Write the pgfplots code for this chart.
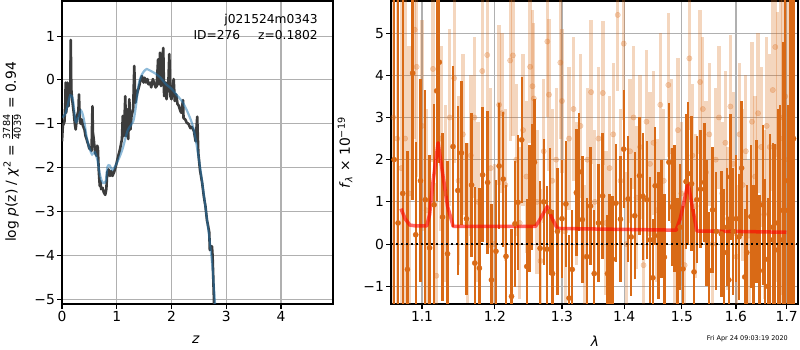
\documentclass[border=0pt]{standalone}
\usepackage{fontspec}
\setmainfont{DejaVu Sans}
\usepackage{amsmath}
\usepackage{pgfplots}
\pgfplotsset{compat=1.18}
\definecolor{dk}{RGB}{60,60,60}
\definecolor{bl}{RGB}{31,119,180}
\definecolor{org}{RGB}{217,106,22}
\definecolor{gridc}{RGB}{176,176,176}
\pgfplotsset{
  myax/.style={
    scale only axis,
    anchor=south west,
    axis line style={line width=1.1bp},
    tick pos=left,
    tick align=outside,
    major tick length=4.9bp,
    tick style={black, line width=1.1bp},
    grid=major,
    major grid style={gridc, line width=1.1bp},
    tick label style={font=\fontsize{13.9}{16}\selectfont},
    xticklabel style={inner sep=2bp},
    yticklabel style={inner sep=2bp},
  }
}
\begin{document}
\begin{tikzpicture}
\useasboundingbox (0,0) rectangle (800bp,350bp);
% ---------------- left panel ----------------
\begin{axis}[myax,
  at={(62bp,46bp)}, width=271bp, height=303bp,
  xmin=0, xmax=4.95, ymin=-5.11, ymax=1.8,
  xtick={0,1,2,3,4}, xticklabels={0,1,2,3,4},
  ytick={-5,-4,-3,-2,-1,0,1},
  yticklabels={−5,−4,−3,−2,−1,0,1},
]
\addplot[dk, line width=2.6bp, line join=round] coordinates {
(0.000,-1.40) (0.015,-1.05) (0.030,-1.00) (0.045,-0.95) (0.060,-0.55) (0.067,-0.06)
(0.075,-0.75) (0.085,-0.65) (0.100,-0.06) (0.110,-0.55) (0.118,-0.60) (0.130,-0.30)
(0.140,-0.14) (0.150,-0.30) (0.160,0.91) (0.170,-0.20) (0.180,-0.37) (0.200,-0.60)
(0.215,-0.75) (0.226,-0.90) (0.240,-1.05) (0.250,-1.13) (0.265,-0.95) (0.275,-0.82)
(0.290,-0.75) (0.300,-0.70) (0.310,-0.33) (0.320,-0.70) (0.330,-0.97) (0.345,-1.00)
(0.360,-0.90) (0.375,-1.00) (0.385,-1.05) (0.400,-1.10) (0.410,-1.13) (0.420,-1.20)
(0.430,-1.28) (0.450,-1.35) (0.465,-1.42) (0.480,-1.47) (0.495,-1.55) (0.510,-1.58)
(0.525,-1.55) (0.540,-1.62) (0.556,-0.60) (0.565,-1.20) (0.580,-1.35) (0.595,-1.55)
(0.605,-1.66) (0.630,-1.73) (0.643,-1.50) (0.655,-1.55) (0.670,-2.04) (0.690,-2.42)
(0.700,-2.30) (0.715,-2.49) (0.740,-2.46) (0.765,-2.57) (0.790,-2.62) (0.810,-2.49)
(0.826,-2.11) (0.850,-2.04) (0.875,-2.19) (0.900,-2.08) (0.920,-2.19) (0.950,-2.11)
(0.985,-1.96) (1.020,-1.77) (1.060,-1.58) (1.095,-1.35) (1.110,-0.82) (1.130,-1.28)
(1.156,-0.37) (1.170,-1.28) (1.190,-0.67) (1.210,-1.35) (1.230,-0.44) (1.250,-1.13)
(1.270,-0.82) (1.300,-0.67) (1.320,0.32) (1.340,-0.52) (1.350,-0.45) (1.376,-0.29)
(1.410,-0.14) (1.440,0.02) (1.460,0.09) (1.490,-0.06) (1.510,0.05) (1.535,-0.06)
(1.560,0.02) (1.580,-0.10) (1.610,-0.06) (1.630,-0.17) (1.660,0.02) (1.680,-0.06)
(1.710,-0.17) (1.730,-0.14) (1.755,0.47) (1.770,-0.10) (1.790,0.62) (1.810,-0.14)
(1.830,0.40) (1.850,0.73) (1.865,-0.37) (1.890,-0.06) (1.910,-0.44) (1.945,0.02)
(1.960,0.59) (1.980,-0.37) (2.000,-0.44) (2.040,0.02) (2.060,-0.48) (2.085,-0.33)
(2.110,-0.55) (2.130,-0.58) (2.160,-0.70) (2.180,-0.75) (2.210,-0.46) (2.220,-0.87)
(2.250,-0.90) (2.280,-0.98) (2.310,-1.00) (2.345,-1.10) (2.370,-1.07) (2.410,-1.17)
(2.440,-1.40) (2.470,-0.84) (2.490,-1.67) (2.520,-2.05) (2.560,-2.35) (2.590,-2.65)
(2.620,-2.88) (2.650,-3.22) (2.660,-3.27) (2.690,-3.48) (2.700,-3.88) (2.720,-3.79)
(2.740,-3.80) (2.750,-4.00) (2.760,-4.39) (2.780,-5.20)
};
\addplot[bl, opacity=0.5, line width=2.2bp, smooth] coordinates {
(0.00,-0.85) (0.05,-0.80) (0.10,-0.60) (0.15,-0.35) (0.20,-0.45) (0.25,-0.95)
(0.30,-0.85) (0.35,-0.70) (0.40,-0.90) (0.45,-1.30) (0.50,-1.55) (0.55,-1.70)
(0.60,-1.65) (0.65,-1.85) (0.70,-2.20) (0.75,-2.35) (0.80,-2.30) (0.83,-1.98)
(0.87,-1.95) (0.92,-2.05) (1.00,-1.90) (1.10,-1.60) (1.20,-1.15) (1.30,-0.95)
(1.35,-0.60) (1.40,-0.10) (1.45,0.10) (1.50,0.20) (1.55,0.25) (1.60,0.22)
(1.70,0.15) (1.80,0.05) (1.90,-0.10) (2.00,-0.20) (2.10,-0.35) (2.20,-0.50)
(2.30,-0.75) (2.40,-1.10) (2.50,-1.80) (2.60,-2.70) (2.70,-3.70) (2.75,-4.30) (2.80,-5.20)
};
\end{axis}
% ---------------- right panel (x on a log10 scale of lambda) ----------------
\begin{axis}[myax,
  at={(391bp,46bp)}, width=407bp, height=303bp,
  x filter/.expression={log10(x)},
  xmin=0.025306, xmax=0.236285, ymin=-1.42, ymax=5.76,
  xtick={0.041393,0.079181,0.113943,0.146128,0.176091,0.204120,0.230449},
  xticklabels={1.1,1.2,1.3,1.4,1.5,1.6,1.7},
  ytick={-1,0,1,2,3,4,5},
  yticklabels={−1,0,1,2,3,4,5},
]
% light series
\addplot[only marks, mark=*, mark size=2.7bp, color=org, opacity=0.28,
  error bars/.cd, y dir=both, y explicit, error mark=none,
  error bar style={line width=3.3bp, opacity=0.28}]
  table[x index=0, y index=1, y error index=2] {
1.063 3.0 6
1.068 2.5 6
1.073 1.8 4.5
1.078 2.5 4.0
1.083 1.2 3.5
1.0904 5.08 2.6
1.093 4.2 2.6
1.100 2.8 2.5
1.106 0.8 2.4
1.1145 4.15 2.2
1.119 -0.75 2.2
1.125 2.5 2.2
1.131 1.2 2.1
1.137 3.0 2.1
1.143 3.93 2.0
1.149 1.5 2.0
1.155 2.6 1.9
1.161 0.5 1.9
1.166 2.1 1.9
1.171 3.0 1.9
1.176 1.0 1.9
1.182 4.1 1.9
1.189 4.48 1.9
1.194 1.8 1.9
1.199 0.0 1.9
1.206 3.3 1.9
1.210 3.1 1.9
1.215 1.4 1.8
1.222 4.35 1.9
1.226 4.47 1.9
1.231 2.0 1.8
1.236 0.5 1.8
1.241 2.7 1.8
1.246 1.6 1.8
1.2515 4.2 1.8
1.255 3.74 1.8
1.257 3.45 1.8
1.262 1.0 1.7
1.267 -0.4 1.7
1.272 2.2 1.7
1.2775 4.8 1.8
1.280 3.54 1.8
1.285 1.5 1.7
1.291 2.0 1.7
1.2975 4.3 1.8
1.300 3.39 1.7
1.305 0.3 1.7
1.311 2.5 1.7
1.318 3.2 1.7
1.323 1.2 1.7
1.329 2.8 1.7
1.335 -0.3 1.7
1.340 2.0 1.7
1.346 3.6 1.7
1.352 1.0 1.7
1.358 2.5 1.7
1.365 3.58 1.7
1.370 0.5 1.7
1.376 1.8 1.7
1.382 2.6 1.7
1.3895 5.43 1.8
1.394 1.5 1.7
1.3995 4.75 1.8
1.404 0.0 1.7
1.410 2.2 1.7
1.416 3.0 1.7
1.421 1.1 1.7
1.427 2.3 1.7
1.433 -0.5 1.7
1.438 2.9 1.7
1.444 1.9 1.7
1.450 2.4 1.7
1.456 0.8 1.7
1.462 3.3 1.7
1.468 1.5 1.7
1.476 3.77 1.7
1.481 2.2 1.7
1.487 0.2 1.7
1.493 2.7 1.7
1.499 1.2 1.7
1.505 -0.5 1.7
1.5135 4.4 1.7
1.519 2.1 1.7
1.525 0.9 1.7
1.533 3.84 1.7
1.538 3.2 1.7
1.544 1.7 1.7
1.550 2.6 1.7
1.556 0.0 1.7
1.562 2.0 1.7
1.568 3.0 1.7
1.574 1.2 1.7
1.580 2.4 1.7
1.585 0.6 1.7
1.5895 3.26 1.7
1.595 1.9 1.7
1.601 -0.3 1.7
1.607 2.6 1.7
1.613 1.4 1.8
1.619 2.2 1.8
1.625 0.2 1.8
1.631 2.9 1.9
1.637 1.6 1.9
1.643 3.1 1.9
1.649 2.3 1.9
1.655 0.7 2.0
1.660 2.8 2.1
1.666 2.3 2.2
1.672 3.65 2.4
1.677 4.67 2.6
1.682 2.3 3.2
1.687 3.0 4.2
1.692 2.5 6
1.697 3.5 6
1.703 2.0 6
1.709 3.0 6
};
% dark series
\addplot[only marks, mark=*, mark size=2.6bp, color=org,
  error bars/.cd, y dir=both, y explicit, error mark=none,
  error bar style={line width=2.3bp}]
  table[x index=0, y index=1, y error index=2] {
1.064 2.0 6.5
1.069 0.5 6.0
1.075 1.2 5.5
1.081 -0.6 2.8
1.0877 4.05 3.0
1.0918 0.22 2.2
1.098 1.5 2.4
1.1043 1.05 2.6
1.1100 -0.09 2.2
1.116 0.93 2.4
1.1194 3.63 2.6
1.1229 4.31 2.4
1.1273 0.64 2.0
1.134 -0.23 2.2
1.1415 2.31 1.9
1.148 1.27 2.0
1.153 2.16 1.7
1.160 0.6 1.8
1.167 1.4 1.7
1.1715 -0.45 1.8
1.178 -0.57 1.9
1.1825 1.64 1.6
1.1896 1.46 1.7
1.195 -0.85 1.8
1.2015 -0.17 1.7
1.206 1.85 1.5
1.212 1.54 1.6
1.216 -0.29 1.7
1.224 -1.24 1.6
1.229 0.48 1.5
1.2335 0.99 1.6
1.239 2.47 1.5
1.2465 -0.53 1.6
1.2505 0.85 1.5
1.2545 1.35 1.5
1.258 1.94 1.5
1.2665 -0.1 1.6
1.272 1.0 1.5
1.277 -0.12 1.5
1.2815 0.77 1.5
1.2855 -0.7 1.5
1.293 0.3 1.5
1.300 0.6 1.4
1.306 0.95 1.5
1.311 -1.28 1.5
1.316 -0.6 1.4
1.3225 1.22 1.5
1.327 1.71 1.4
1.332 0.58 1.5
1.339 -0.3 1.4
1.345 0.9 1.4
1.351 -0.7 1.5
1.358 0.5 1.4
1.3647 1.14 1.5
1.3725 -0.7 1.4
1.376 -0.21 1.4
1.381 -0.36 1.5
1.3865 0.97 1.4
1.394 0.59 1.5
1.3995 2.25 1.4
1.4068 1.07 1.5
1.412 0.17 1.4
1.418 0.67 1.5
1.426 1.62 1.4
1.432 1.13 1.5
1.4385 1.05 1.4
1.4445 0.1 1.5
1.449 -0.8 1.4
1.453 1.38 1.4
1.4585 0.2 1.5
1.464 0.6 1.4
1.469 -0.31 1.5
1.477 1.94 1.4
1.482 0.88 1.4
1.487 0.85 1.5
1.492 -0.31 1.4
1.497 0.4 1.5
1.502 -0.59 1.5
1.5075 1.48 1.6
1.5115 1.67 1.7
1.5175 1.43 1.6
1.522 -0.66 1.5
1.527 1.05 1.5
1.534 1.3 1.4
1.541 1.46 1.4
1.545 0.5 1.5
1.550 -0.63 1.4
1.556 0.81 1.5
1.563 0.3 1.4
1.5725 0.24 1.5
1.578 -0.2 1.5
1.583 0.4 1.4
1.5865 -0.85 1.5
1.5895 1.59 1.5
1.595 0.3 1.5
1.6005 0.6 1.5
1.606 0.17 1.5
1.611 1.8 1.6
1.617 -0.78 1.6
1.621 -0.2 1.6
1.629 0.65 1.7
1.634 -0.3 1.7
1.640 0.77 1.7
1.6455 -0.63 1.8
1.652 0.93 1.9
1.657 -0.36 1.9
1.662 -1.0 2.1
1.667 0.4 2.2
1.672 0.1 2.3
1.677 -0.14 2.5
1.682 0.5 2.7
1.687 0.1 3.2
1.692 0.8 4.0
1.697 1.5 6
1.702 0.8 2.5
1.708 2.0 6
1.714 2.5 6
};
% model
\addplot[red, opacity=0.6, line width=3.5bp, line join=round] coordinates {
(1.0727,0.84) (1.078,0.6) (1.0842,0.45) (1.092,0.43) (1.1062,0.43) (1.110,0.7)
(1.114,1.4) (1.1213,2.40) (1.128,1.6) (1.134,0.9) (1.1417,0.42) (1.2595,0.42)
(1.265,0.55) (1.2775,0.89) (1.285,0.6) (1.2928,0.37) (1.4898,0.33) (1.497,0.6)
(1.504,1.0) (1.511,1.45) (1.518,0.95) (1.527,0.31) (1.60,0.30) (1.6996,0.28)
};
% zero line
\addplot[black, line width=2bp, dash pattern=on 2bp off 3bp] coordinates {(1.06,0) (1.723,0)};
\end{axis}
% ---------------- texts ----------------
\node[anchor=east, font=\fontsize{12.3}{14}\selectfont, inner sep=0] at (318bp,330bp) {j021524m0343};
\node[anchor=east, font=\fontsize{12.3}{14}\selectfont, inner sep=0] at (318bp,315bp) {ID=276\hspace{18bp}z=0.1802};
\node[rotate=90, font=\fontsize{13.9}{16}\selectfont, inner sep=0] at (12bp,198bp)
  {log \textit{p}(z) / \textit{χ}\textsuperscript{2} = $\frac{\text{3784}}{\text{4039}}$ = 0.94};
\node[rotate=90, font=\fontsize{13.9}{16}\selectfont, inner sep=0] at (345bp,197bp)
  {\textit{f}\textsubscript{\textit{λ}} × 10\textsuperscript{−19}};
\node[font=\fontsize{13.9}{16}\selectfont, inner sep=0] at (196bp,10bp) {\textit{z}};
\node[font=\fontsize{13.9}{16}\selectfont, inner sep=0] at (595bp,9bp) {\textit{λ}};
\node[anchor=east, font=\fontsize{6.5}{8}\selectfont, inner sep=0] at (788bp,11bp) {Fri Apr 24 09:03:19 2020};
\end{tikzpicture}
\end{document}
